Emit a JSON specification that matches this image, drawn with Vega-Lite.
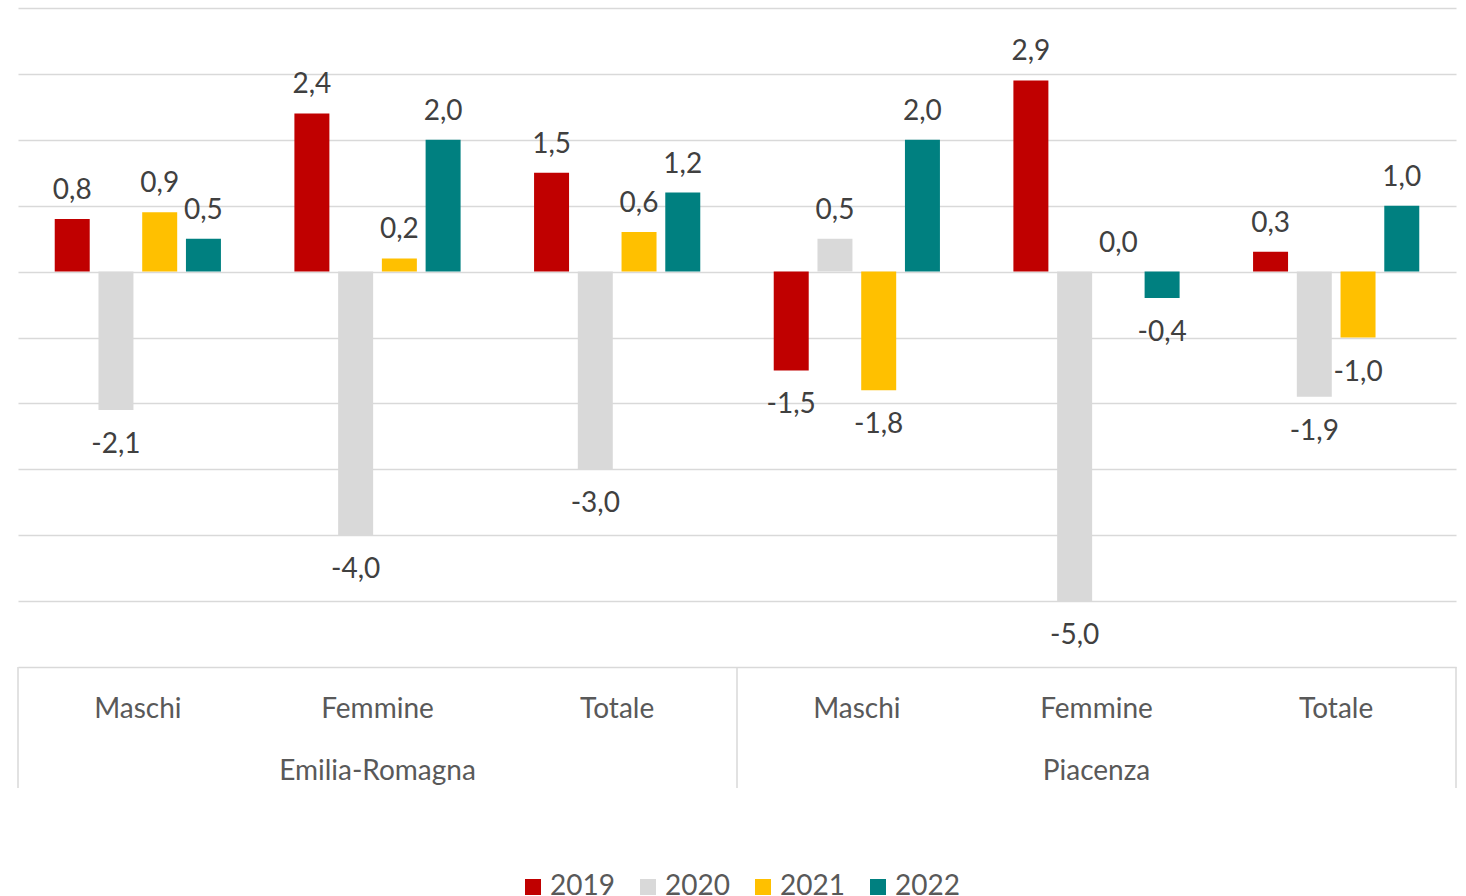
{
  "$schema": "https://vega.github.io/schema/vega-lite/v6.json",
  "width": 1438,
  "height": 659,
  "autosize": "none",
  "padding": {"left": 18, "top": 8, "right": 10, "bottom": 229},
  "background": "white",
  "config": {
    "view": {"stroke": null},
    "font": "Lato",
    "locale": {"number": {"decimal": ",", "thousands": ".", "grouping": [3], "currency": ["", " €"], "minus": "-"}}
  },
  "datasets": {
    "bars": [
      {"region": "Emilia-Romagna", "sex": "Maschi", "key": "ER|Maschi", "year": "2019", "value": 0.8},
      {"region": "Emilia-Romagna", "sex": "Maschi", "key": "ER|Maschi", "year": "2020", "value": -2.1},
      {"region": "Emilia-Romagna", "sex": "Maschi", "key": "ER|Maschi", "year": "2021", "value": 0.9},
      {"region": "Emilia-Romagna", "sex": "Maschi", "key": "ER|Maschi", "year": "2022", "value": 0.5},
      {"region": "Emilia-Romagna", "sex": "Femmine", "key": "ER|Femmine", "year": "2019", "value": 2.4},
      {"region": "Emilia-Romagna", "sex": "Femmine", "key": "ER|Femmine", "year": "2020", "value": -4.0},
      {"region": "Emilia-Romagna", "sex": "Femmine", "key": "ER|Femmine", "year": "2021", "value": 0.2},
      {"region": "Emilia-Romagna", "sex": "Femmine", "key": "ER|Femmine", "year": "2022", "value": 2.0},
      {"region": "Emilia-Romagna", "sex": "Totale", "key": "ER|Totale", "year": "2019", "value": 1.5},
      {"region": "Emilia-Romagna", "sex": "Totale", "key": "ER|Totale", "year": "2020", "value": -3.0},
      {"region": "Emilia-Romagna", "sex": "Totale", "key": "ER|Totale", "year": "2021", "value": 0.6},
      {"region": "Emilia-Romagna", "sex": "Totale", "key": "ER|Totale", "year": "2022", "value": 1.2},
      {"region": "Piacenza", "sex": "Maschi", "key": "PC|Maschi", "year": "2019", "value": -1.5},
      {"region": "Piacenza", "sex": "Maschi", "key": "PC|Maschi", "year": "2020", "value": 0.5},
      {"region": "Piacenza", "sex": "Maschi", "key": "PC|Maschi", "year": "2021", "value": -1.8},
      {"region": "Piacenza", "sex": "Maschi", "key": "PC|Maschi", "year": "2022", "value": 2.0},
      {"region": "Piacenza", "sex": "Femmine", "key": "PC|Femmine", "year": "2019", "value": 2.9},
      {"region": "Piacenza", "sex": "Femmine", "key": "PC|Femmine", "year": "2020", "value": -5.0},
      {"region": "Piacenza", "sex": "Femmine", "key": "PC|Femmine", "year": "2021", "value": 0.0},
      {"region": "Piacenza", "sex": "Femmine", "key": "PC|Femmine", "year": "2022", "value": -0.4},
      {"region": "Piacenza", "sex": "Totale", "key": "PC|Totale", "year": "2019", "value": 0.3},
      {"region": "Piacenza", "sex": "Totale", "key": "PC|Totale", "year": "2020", "value": -1.9},
      {"region": "Piacenza", "sex": "Totale", "key": "PC|Totale", "year": "2021", "value": -1.0},
      {"region": "Piacenza", "sex": "Totale", "key": "PC|Totale", "year": "2022", "value": 1.0}
    ],
    "edges": [
      {"edge": 0},
      {"edge": 3},
      {"edge": 6}
    ]
  },
  "layer": [
    {
      "encoding": {
        "x": {
          "field": "key",
          "type": "nominal",
          "scale": {
            "domain": ["ER|Maschi", "ER|Femmine", "ER|Totale", "PC|Maschi", "PC|Femmine", "PC|Totale"],
            "paddingInner": 0.27,
            "paddingOuter": 0.135
          },
          "axis": {
            "title": null,
            "orient": "bottom",
            "domain": false,
            "ticks": false,
            "tickSize": 0,
            "grid": false,
            "labelAngle": 0,
            "labelFontSize": 28,
            "labelFont": "Lato",
            "labelColor": "#595959",
            "labelBaseline": "alphabetic",
            "labelPadding": 50,
            "labelExpr": "split(datum.label, '|')[1]"
          }
        },
        "y": {
          "field": "value",
          "type": "quantitative",
          "scale": {"domain": [-6, 4], "nice": false, "zero": false},
          "axis": {
            "title": null,
            "values": [-6, -5, -4, -3, -2, -1, 0, 1, 2, 3, 4],
            "labels": false,
            "ticks": false,
            "domain": false,
            "grid": true,
            "gridColor": "#D9D9D9",
            "gridWidth": 1.5
          }
        }
      },
      "layer": [
        {
          "data": {"name": "bars"},
          "mark": {"type": "bar"},
          "encoding": {
            "xOffset": {"field": "year", "type": "nominal", "scale": {"paddingInner": 0.2, "paddingOuter": 0.1}},
            "color": {
              "field": "year",
              "type": "nominal",
              "scale": {"domain": ["2019", "2020", "2021", "2022"], "range": ["#C00000", "#D9D9D9", "#FFC000", "#008080"]},
              "legend": {
                "orient": "none",
                "legendX": 501,
                "legendY": 865,
                "direction": "horizontal",
                "title": null,
                "symbolType": "square",
                "symbolSize": 256,
                "symbolStrokeWidth": 0,
                "labelFontSize": 28,
                "labelFont": "Lato",
                "labelColor": "#595959",
                "columnPadding": 19,
                "labelOffset": 3,
                "padding": 0
              }
            }
          }
        },
        {
          "data": {"name": "bars"},
          "transform": [{"filter": "datum.value >= 0"}],
          "mark": {"type": "text", "baseline": "alphabetic", "dy": -20, "fontSize": 28, "font": "Lato", "color": "#404040"},
          "encoding": {
            "xOffset": {"field": "year", "type": "nominal", "scale": {"paddingInner": 0.2, "paddingOuter": 0.1}},
            "text": {"field": "value", "type": "quantitative", "format": ".1f"}
          }
        },
        {
          "data": {"name": "bars"},
          "transform": [{"filter": "datum.value < 0"}],
          "mark": {"type": "text", "baseline": "alphabetic", "dy": 43, "fontSize": 28, "font": "Lato", "color": "#404040"},
          "encoding": {
            "xOffset": {"field": "year", "type": "nominal", "scale": {"paddingInner": 0.2, "paddingOuter": 0.1}},
            "text": {"field": "value", "type": "quantitative", "format": ".1f"}
          }
        }
      ]
    },
    {
      "layer": [
        {
          "data": {"name": "edges"},
          "mark": {"type": "rule", "color": "#D9D9D9", "strokeWidth": 1.5},
          "encoding": {
            "x": {"field": "edge", "type": "quantitative", "scale": {"domain": [0, 6], "nice": false, "zero": false}, "axis": null},
            "y": {"datum": -6, "type": "quantitative"},
            "y2": {"datum": -7.836}
          }
        },
        {
          "data": {"values": [{"region": "Emilia-Romagna"}]},
          "mark": {"type": "text", "baseline": "alphabetic", "fontSize": 28, "font": "Lato", "color": "#595959"},
          "encoding": {
            "x": {"datum": 1.5, "type": "quantitative"},
            "y": {"datum": -7.715, "type": "quantitative"},
            "text": {"field": "region", "type": "nominal"}
          }
        },
        {
          "data": {"values": [{"region": "Piacenza"}]},
          "mark": {"type": "text", "baseline": "alphabetic", "fontSize": 28, "font": "Lato", "color": "#595959"},
          "encoding": {
            "x": {"datum": 4.5, "type": "quantitative"},
            "y": {"datum": -7.715, "type": "quantitative"},
            "text": {"field": "region", "type": "nominal"}
          }
        }
      ]
    }
  ],
  "resolve": {"scale": {"x": "independent"}}
}
